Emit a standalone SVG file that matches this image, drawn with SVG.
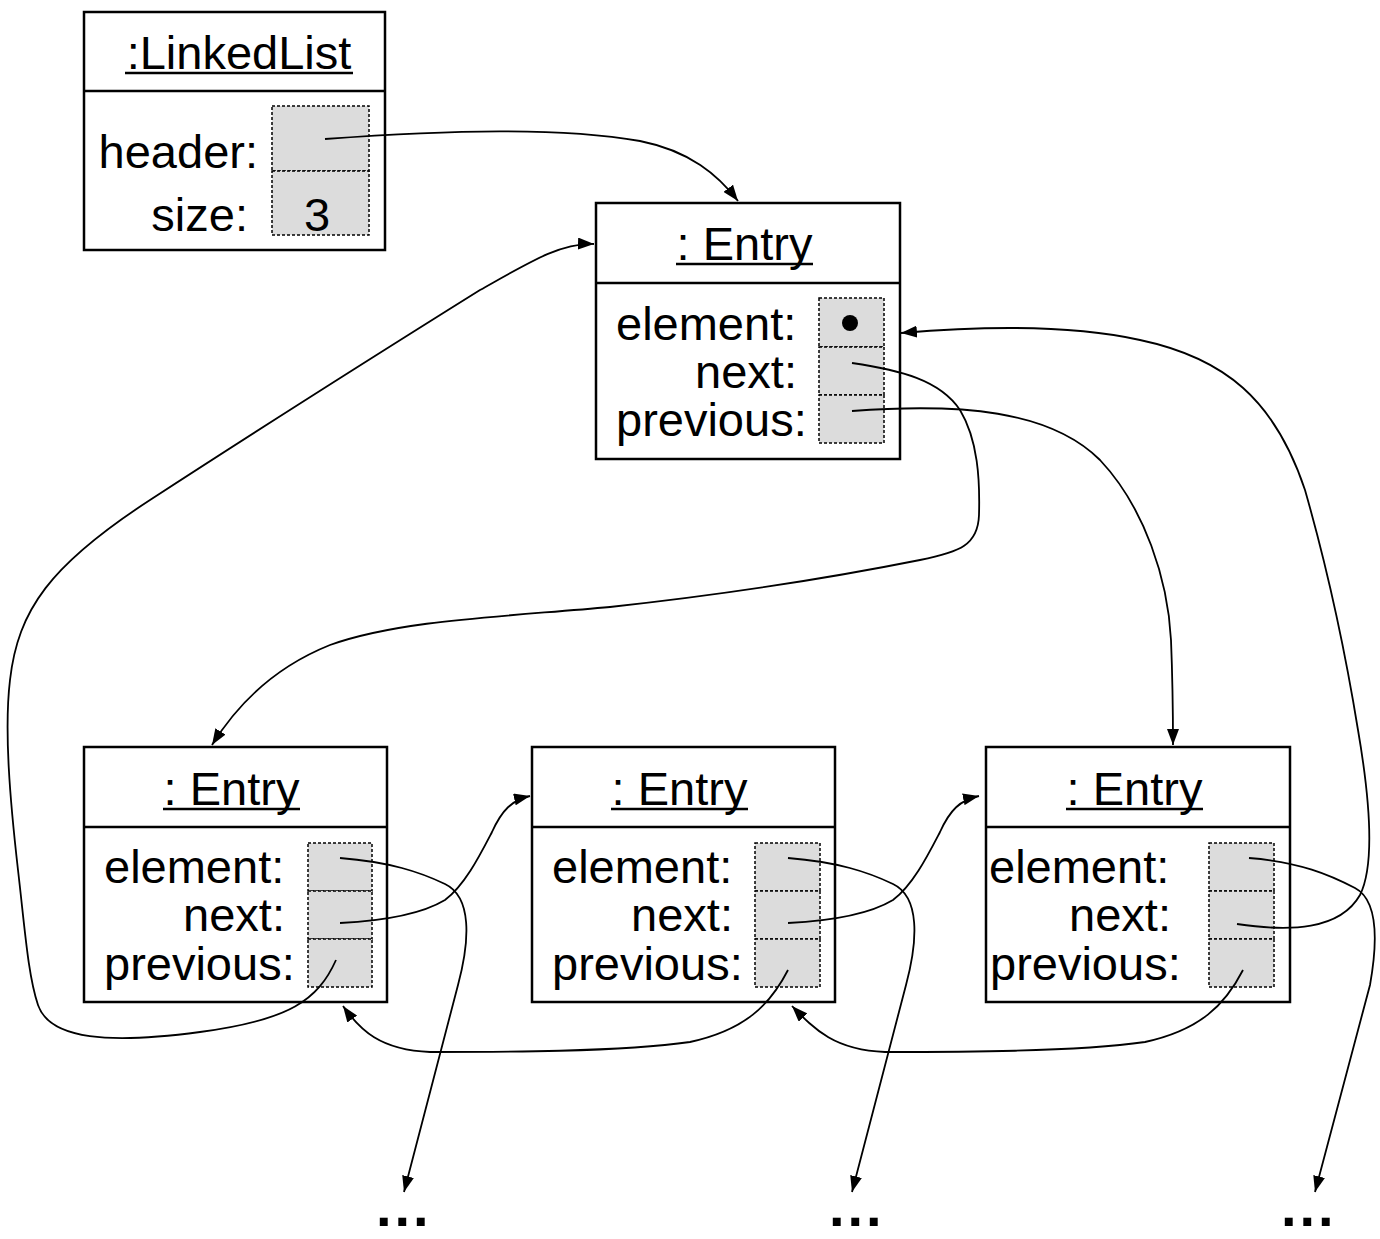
<svg xmlns="http://www.w3.org/2000/svg" width="1380" height="1239" viewBox="0 0 1380 1239">
<defs>
<marker id="arr" viewBox="0 0 16 12" refX="16" refY="6" markerWidth="16" markerHeight="12" orient="auto" markerUnits="userSpaceOnUse">
<path d="M0,0 L16,6 L0,12 z" fill="#000"/>
</marker>
<style>
.box{fill:#fff;stroke:#000;stroke-width:2.5}
.div{stroke:#000;stroke-width:2.5}
.ul{stroke:#000;stroke-width:2.5}
.slot{fill:#dcdcdc;stroke:#000;stroke-width:1.5;stroke-dasharray:3,2}
.t{font-family:"Liberation Sans",Arial,sans-serif;font-size:47px;fill:#000}
.c{text-anchor:middle}
.e{text-anchor:end}
.dots{font-family:"Liberation Sans",Arial,sans-serif;font-size:56px;font-weight:bold;letter-spacing:3px;fill:#000}
.con{fill:none;stroke:#000;stroke-width:1.8}
</style>
</defs>
<rect width="1380" height="1239" fill="#fff"/>

<g id="linkedlist">
<rect class="box" x="84" y="12" width="301" height="238"/>
<line class="div" x1="84" y1="91" x2="385" y2="91"/>
<text class="t c" x="239" y="69">:LinkedList</text>
<line class="ul" x1="125" y1="73" x2="353" y2="73"/>
<rect class="slot" x="272" y="106" width="97" height="65"/>
<rect class="slot" x="272" y="171" width="97" height="64"/>
<text class="t e" x="258" y="168">header:</text>
<text class="t e" x="248" y="231">size:</text>
<text class="t c" x="317" y="231">3</text>
</g>

<g id="entry-header">
<rect class="box" x="596" y="203" width="304" height="256"/>
<line class="div" x1="596" y1="283" x2="900" y2="283"/>
<text class="t c" x="744.500" y="260">: Entry</text>
<line class="ul" x1="676" y1="264" x2="813" y2="264"/>
<rect class="slot" x="819" y="298" width="65" height="49"/>
<rect class="slot" x="819" y="347" width="65" height="48"/>
<rect class="slot" x="819" y="395" width="65" height="48"/>
<circle cx="850" cy="323" r="8" fill="#000"/>
<text class="t" x="616" y="340">element:</text>
<text class="t e" x="797" y="388">next:</text>
<text class="t" x="616" y="436">previous:</text>
</g>

<g id="entry-1">
<rect class="box" x="84" y="747" width="303" height="255"/>
<line class="div" x1="84" y1="827" x2="387" y2="827"/>
<text class="t c" x="231.500" y="805">: Entry</text>
<line class="ul" x1="163" y1="809" x2="300" y2="809"/>
<rect class="slot" x="308" y="843" width="64" height="48"/>
<rect class="slot" x="308" y="891" width="64" height="48"/>
<rect class="slot" x="308" y="939" width="64" height="48"/>
<text class="t" x="104" y="883">element:</text>
<text class="t e" x="285" y="931">next:</text>
<text class="t" x="104" y="980">previous:</text>
</g>

<g id="entry-2">
<rect class="box" x="532" y="747" width="303" height="255"/>
<line class="div" x1="532" y1="827" x2="835" y2="827"/>
<text class="t c" x="679.500" y="805">: Entry</text>
<line class="ul" x1="611" y1="809" x2="748" y2="809"/>
<rect class="slot" x="755" y="843" width="65" height="48"/>
<rect class="slot" x="755" y="891" width="65" height="48"/>
<rect class="slot" x="755" y="939" width="65" height="48"/>
<text class="t" x="552" y="883">element:</text>
<text class="t e" x="733" y="931">next:</text>
<text class="t" x="552" y="980">previous:</text>
</g>

<g id="entry-3">
<rect class="box" x="986" y="747" width="304" height="255"/>
<line class="div" x1="986" y1="827" x2="1290" y2="827"/>
<text class="t c" x="1134.500" y="805">: Entry</text>
<line class="ul" x1="1066" y1="809" x2="1203" y2="809"/>
<rect class="slot" x="1209" y="843" width="65" height="48"/>
<rect class="slot" x="1209" y="891" width="65" height="48"/>
<rect class="slot" x="1209" y="939" width="65" height="48"/>
<text class="t" x="989" y="883">element:</text>
<text class="t e" x="1171" y="931">next:</text>
<text class="t" x="990" y="980">previous:</text>
</g>

<g id="ellipses">
<text class="dots" x="376" y="1226">...</text>
<text class="dots" x="829" y="1226">...</text>
<text class="dots" x="1281" y="1226">...</text>
</g>

<g id="connectors">
<path class="con" marker-end="url(#arr)" d="M325,139 C450,130 560,127 640,141 C690,151 718,175 738,201"/>
<path class="con" marker-end="url(#arr)" d="M336,960 C318,1000 290,1020 200,1032 C110,1044 50,1040 38,1005 C28,975 25,930 18,870 C10,800 4,730 10,680 C18,610 50,565 150,500 C250,435 400,340 480,290 C530,262 560,243 594,244"/>
<path class="con" marker-end="url(#arr)" d="M852,363 C900,370 940,380 960,410 C978,440 980,480 979,515 C978,545 960,552 920,560 C820,580 720,595 610,607 C500,617 400,620 330,645 C280,665 240,700 212,745"/>
<path class="con" marker-end="url(#arr)" d="M852,411 C960,403 1050,410 1100,460 C1145,508 1168,580 1171,640 C1173,690 1173,720 1173,745"/>
<path class="con" marker-end="url(#arr)" d="M1237,924 C1290,932 1340,930 1360,895 C1375,865 1370,800 1358,730 C1345,650 1325,560 1305,490 C1275,400 1225,358 1140,340 C1060,322 960,328 901,333"/>
<path class="con" marker-end="url(#arr)" d="M340,923 C380,921 420,915 445,900 C465,885 480,855 492,832 C502,810 512,800 530,796"/>
<path class="con" marker-end="url(#arr)" d="M788,923 C828,921 868,915 893,900 C913,885 928,855 940,832 C950,810 960,800 979,796"/>
<path class="con" marker-end="url(#arr)" d="M340,858 C390,862 420,872 445,884 C472,897 470,940 458,985 L404,1192"/>
<path class="con" marker-end="url(#arr)" d="M788,858 C838,862 868,872 893,884 C920,897 918,940 906,985 L852,1192"/>
<path class="con" marker-end="url(#arr)" d="M1249,858 C1300,862 1330,875 1355,888 C1378,900 1378,940 1370,985 L1315,1192"/>
<path class="con" marker-end="url(#arr)" d="M788,970 C770,1005 745,1030 690,1042 C620,1052 500,1052 430,1052 C380,1050 360,1030 343,1006"/>
<path class="con" marker-end="url(#arr)" d="M1243,970 C1225,1005 1200,1030 1145,1042 C1075,1052 955,1052 885,1052 C835,1050 815,1030 792,1006"/>
</g>
</svg>
